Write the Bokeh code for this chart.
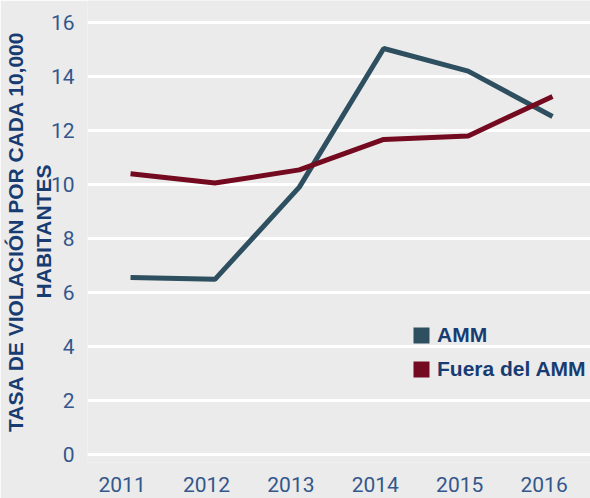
from bokeh.plotting import figure
from bokeh.models import (Range1d, LinearAxis, FixedTicker, Legend, LegendItem,
                          ColumnDataSource)
from bokeh.embed import file_html
from bokeh.resources import INLINE

# ---- data ----
years = [2011, 2012, 2013, 2014, 2015, 2016]
amm = [6.56, 6.49, 9.91, 15.05, 14.21, 12.53]
fuera = [10.41, 10.06, 10.55, 11.68, 11.81, 13.27]
y_ticks = [0, 2, 4, 6, 8, 10, 12, 14, 16]
series_names = ["AMM", "Fuera del AMM"]
y_title = "TASA DE VIOLACIÓN POR CADA 10,000\nHABITANTES"

BG = "#ebebeb"
C_AMM = "#2e4f5f"
C_FUERA = "#740a20"
TICK_C = "#34578c"
TITLE_C = "#173c72"

x0, x1 = 2010.49, 2016.45
label_shift = 0.10

p = figure(width=590, height=498, output_backend="svg", toolbar_location=None,
           x_range=Range1d(x0, x1), y_range=Range1d(-0.30, 16.83),
           x_axis_location=None,
           background_fill_color=BG, border_fill_color=BG,
           min_border_left=87, min_border_right=0, min_border_top=0,
           min_border_bottom=36)
p.outline_line_color = None

p.extra_x_ranges = {"lbl": Range1d(x0 + label_shift, x1 + label_shift)}
xax = LinearAxis(x_range_name="lbl", ticker=FixedTicker(ticks=years))
xax.axis_line_color = None
xax.major_tick_line_color = None
xax.minor_tick_line_color = None
xax.major_label_standoff = 8
xax.major_label_text_font = "Roboto"
xax.major_label_text_font_size = "21px"
xax.major_label_text_color = TICK_C
p.add_layout(xax, "below")

yax = p.yaxis[0]
yax.ticker = FixedTicker(ticks=y_ticks)
yax.axis_line_color = None
yax.major_tick_line_color = None
yax.minor_tick_line_color = None
yax.major_label_standoff = 7
yax.major_label_text_font = "Roboto"
yax.major_label_text_font_size = "21px"
yax.major_label_text_color = TICK_C
yax.axis_label = y_title
yax.axis_label_text_font = "Liberation Sans"
yax.axis_label_text_font_style = "bold"
yax.axis_label_text_font_size = "21px"
yax.axis_label_text_color = TITLE_C
yax.axis_label_standoff = -7

p.xgrid.visible = False
p.ygrid.grid_line_color = "white"
p.ygrid.grid_line_width = 3
p.ygrid.ticker = FixedTicker(ticks=y_ticks)

p.line(years, amm, line_color=C_AMM, line_width=5)
p.line(years, fuera, line_color=C_FUERA, line_width=5)

# zero-size rects used only as legend swatches
swatch = ColumnDataSource(dict(x=[years[0]], y=[amm[0]]))
r1 = p.rect(x="x", y="y", width=0, height=0, source=swatch, fill_color=C_AMM, line_color=None)
r2 = p.rect(x="x", y="y", width=0, height=0, source=swatch, fill_color=C_FUERA, line_color=None)

legend = Legend(items=[LegendItem(label=series_names[0], renderers=[r1]),
                       LegendItem(label=series_names[1], renderers=[r2])],
                location=(324, 81), orientation="vertical")
legend.background_fill_alpha = 0
legend.border_line_color = None
legend.padding = 0
legend.margin = 0
legend.spacing = 10
legend.glyph_width = 20
legend.glyph_height = 20
legend.label_height = 20
legend.label_standoff = 6
legend.label_text_font = "Liberation Sans"
legend.label_text_font_style = "bold"
legend.label_text_font_size = "21px"
legend.label_text_color = TITLE_C
p.add_layout(legend, "center")

html = file_html(p, INLINE)
html = html.replace("<body>", '<body style="background-color:#ebebeb;">', 1)
open("out.html", "w").write(html)
